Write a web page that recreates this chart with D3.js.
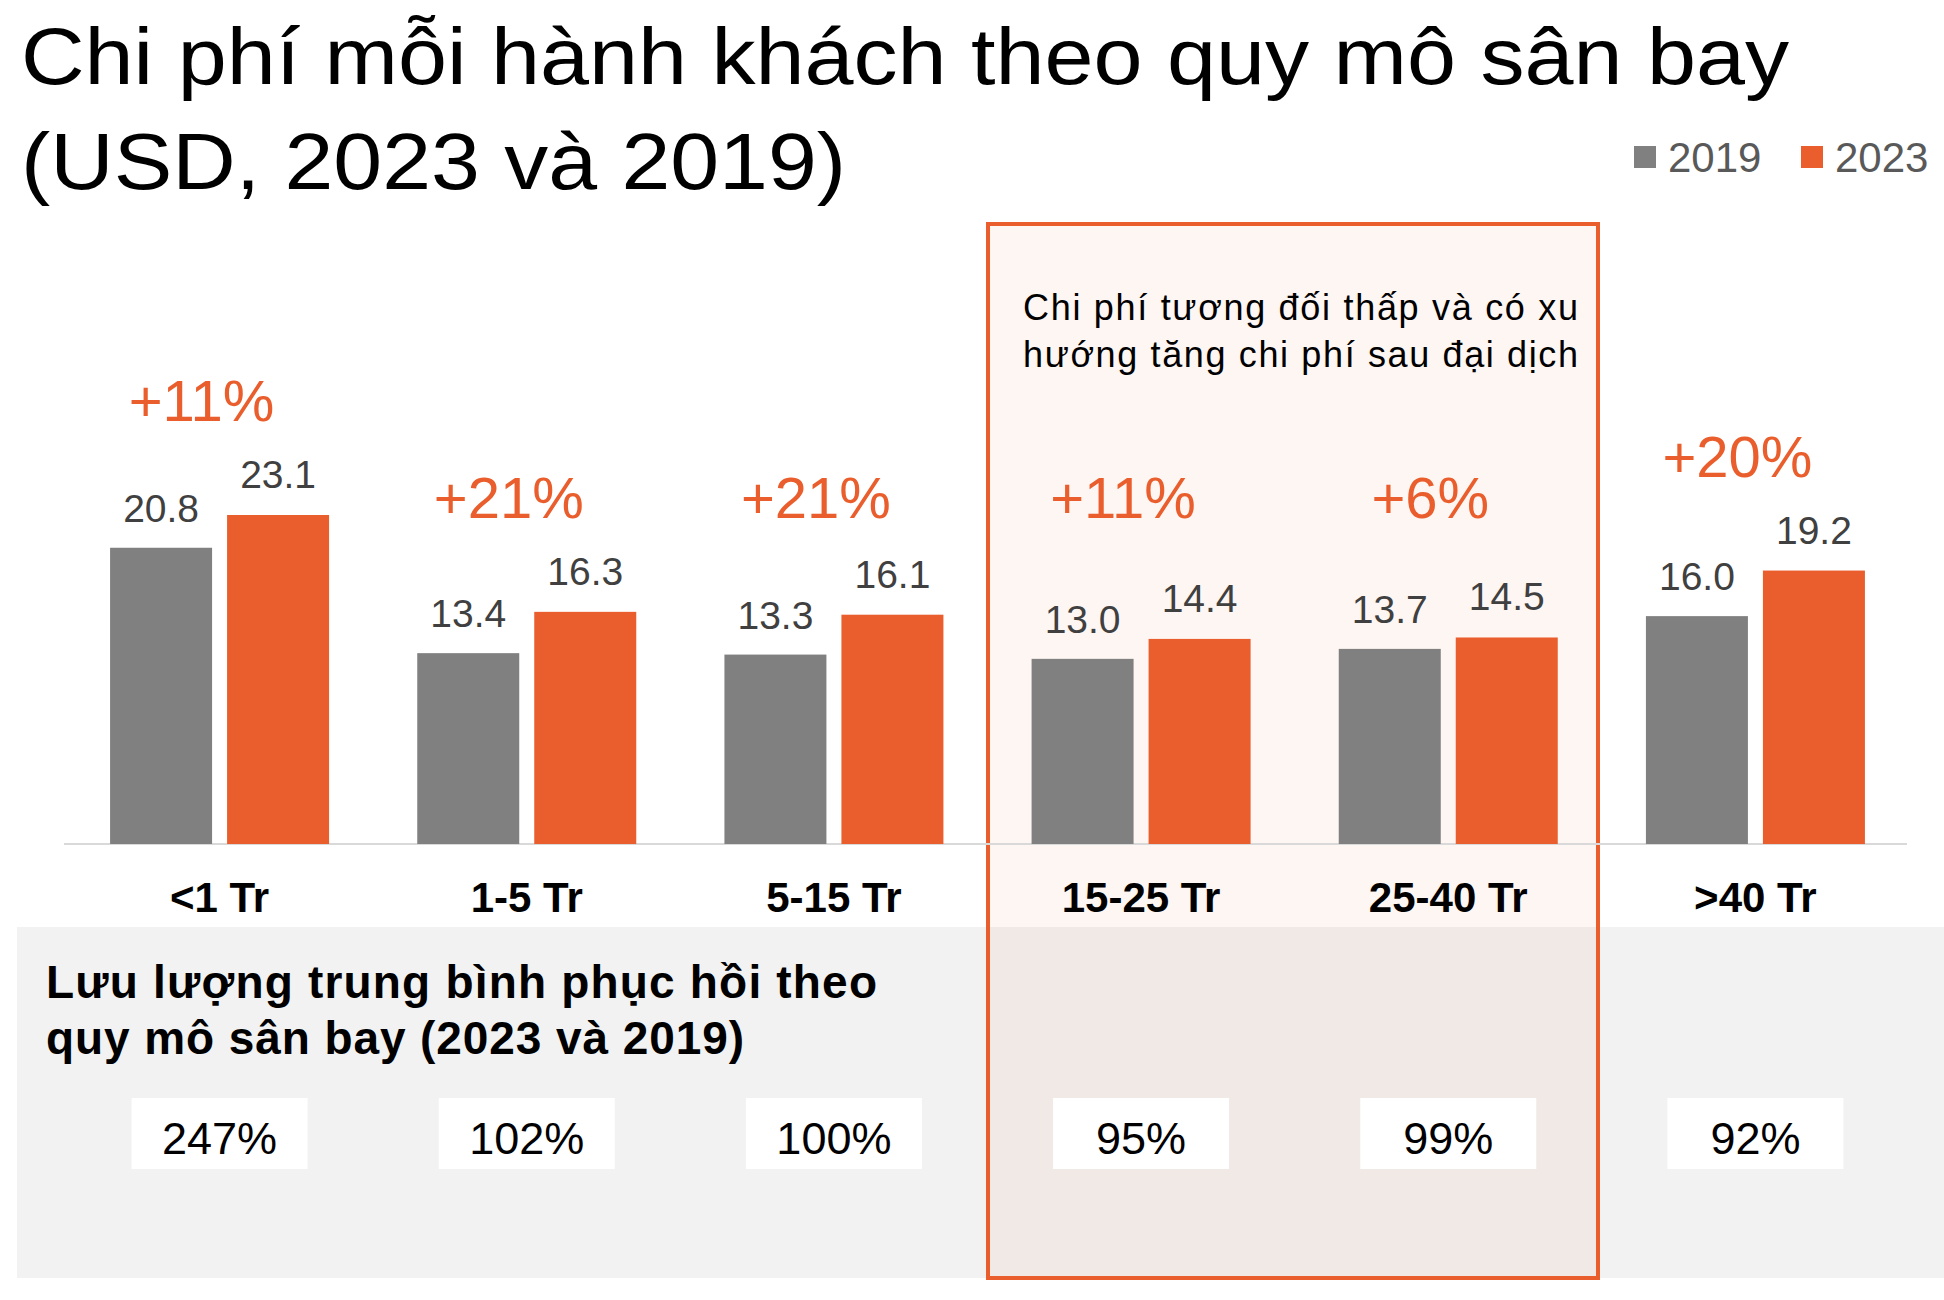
<!DOCTYPE html>
<html><head><meta charset="utf-8">
<script src="https://cdn.jsdelivr.net/npm/d3@7"></script>
<style>body{margin:0;background:#fff}svg{font-family:Arial,"Liberation Sans",sans-serif}</style>
</head><body><svg id="c" width="1944" height="1300"></svg>
<script>
const categories=["<1 Tr","1-5 Tr","5-15 Tr","15-25 Tr","25-40 Tr",">40 Tr"];
const v2019=[20.8,13.4,13.3,13.0,13.7,16.0];
const v2023=[23.1,16.3,16.1,14.4,14.5,19.2];
const changes=["+11%","+21%","+21%","+11%","+6%","+20%"];
const recovery=["247%","102%","100%","95%","99%","92%"];
const series=["2019","2023"];
const colors={"2019":"#808080","2023":"#e95e2c"};

const svg=d3.select("#c");
const x=d3.scaleBand().domain(categories).range([66,1909]).paddingInner(0).paddingOuter(0);
const y=d3.scaleLinear().domain([0,23.1]).range([844,515]);
const bw=102,gap=15;

svg.append("rect").attr("x",17).attr("y",927).attr("width",1927).attr("height",351).attr("fill","#f2f2f2");
svg.append("rect").attr("x",988).attr("y",224).attr("width",610).attr("height",1054)
  .attr("fill","#e95e2c").attr("fill-opacity",0.06).attr("stroke","#e95e2c").attr("stroke-width",4);

svg.append("text").attr("x",21).attr("y",84).attr("font-size",80).attr("textLength",1768).attr("lengthAdjust","spacingAndGlyphs").attr("fill","#000").text("Chi phí mỗi hành khách theo quy mô sân bay");
svg.append("text").attr("x",21).attr("y",189).attr("font-size",80).attr("textLength",825).attr("lengthAdjust","spacingAndGlyphs").attr("fill","#000").text("(USD, 2023 và 2019)");
const lg=svg.append("g");
[["2019",1634],["2023",1801]].forEach(([s,lx])=>{
  lg.append("rect").attr("x",lx).attr("y",146).attr("width",22).attr("height",22).attr("fill",colors[s]);
  lg.append("text").attr("x",lx+34).attr("y",172).attr("font-size",42).attr("fill","#595959").text(s);
});

svg.append("text").attr("x",1023).attr("y",320).attr("font-size",36).attr("textLength",555).attr("fill","#000").text("Chi phí tương đối thấp và có xu");
svg.append("text").attr("x",1023).attr("y",367).attr("font-size",36).attr("textLength",555).attr("fill","#000").text("hướng tăng chi phí sau đại dịch");

svg.append("line").attr("x1",64).attr("x2",1907).attr("y1",844).attr("y2",844).attr("stroke","#d9d9d9").attr("stroke-width",2);

categories.forEach((c,i)=>{
  const cx=x(c)+x.bandwidth()/2;
  const xg=cx-gap/2-bw, xo=cx+gap/2;
  svg.append("rect").attr("x",xg).attr("y",y(v2019[i])).attr("width",bw).attr("height",y(0)-y(v2019[i])).attr("fill",colors["2019"]);
  svg.append("rect").attr("x",xo).attr("y",y(v2023[i])).attr("width",bw).attr("height",y(0)-y(v2023[i])).attr("fill",colors["2023"]);
  svg.append("text").attr("x",xg+bw/2).attr("y",y(v2019[i])-26).attr("text-anchor","middle").attr("font-size",39).attr("fill","#404040").text(v2019[i].toFixed(1));
  svg.append("text").attr("x",xo+bw/2).attr("y",y(v2023[i])-27).attr("text-anchor","middle").attr("font-size",39).attr("fill","#404040").text(v2023[i].toFixed(1));
  svg.append("text").attr("x",cx-18).attr("y",y(Math.max(v2023[i],16.3))-94).attr("text-anchor","middle").attr("font-size",58).attr("fill","#e95e2c").text(changes[i]);
  svg.append("text").attr("x",cx).attr("y",912).attr("text-anchor","middle").attr("font-size",42).attr("font-weight","bold").attr("fill","#000").text(c);
  svg.append("rect").attr("x",cx-88).attr("y",1098).attr("width",176).attr("height",71).attr("fill","#fff");
  svg.append("text").attr("x",cx).attr("y",1154).attr("text-anchor","middle").attr("font-size",45).attr("fill","#000").text(recovery[i]);
});

svg.append("text").attr("x",46).attr("y",998).attr("font-size",46).attr("textLength",831).attr("font-weight","bold").attr("fill","#000").text("Lưu lượng trung bình phục hồi theo");
svg.append("text").attr("x",46).attr("y",1054).attr("font-size",46).attr("textLength",698).attr("font-weight","bold").attr("fill","#000").text("quy mô sân bay (2023 và 2019)");
</script></body></html>
